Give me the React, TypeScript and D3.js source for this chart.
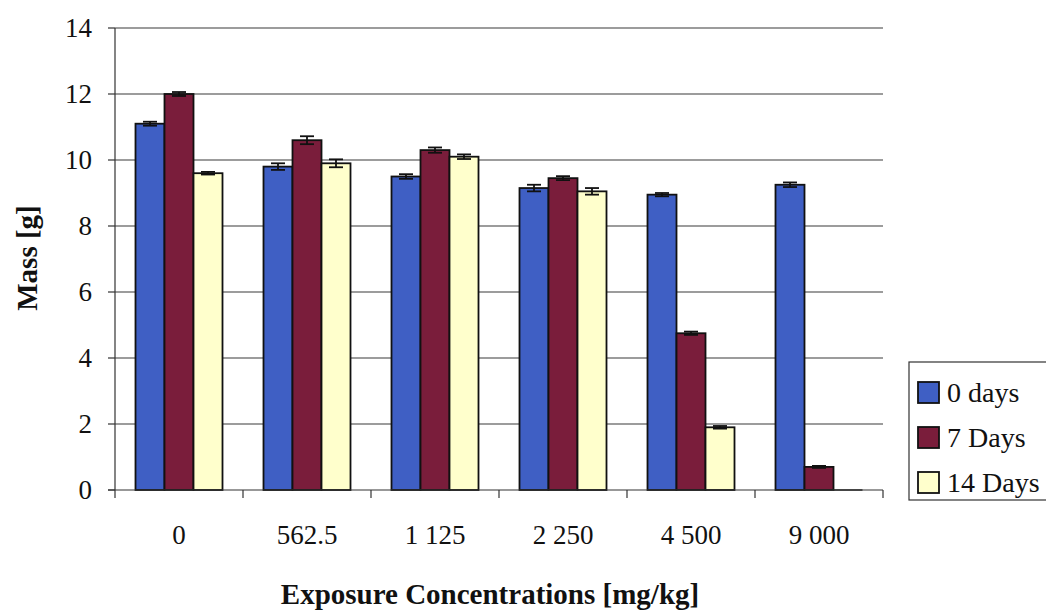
import React from "react";
import * as d3 from "d3";

const categories = ["0", "562.5", "1 125", "2 250", "4 500", "9 000"];
const seriesNames = ["0 days", "7 Days", "14 Days"];
const days0 = [11.1, 9.8, 9.5, 9.15, 8.95, 9.25];
const days7 = [12.0, 10.6, 10.3, 9.45, 4.75, 0.7];
const days14 = [9.6, 9.9, 10.1, 9.05, 1.9, 0];
const err0 = [0.06, 0.1, 0.07, 0.1, 0.05, 0.07];
const err7 = [0.06, 0.12, 0.08, 0.06, 0.05, 0.03];
const err14 = [0.04, 0.12, 0.07, 0.1, 0.04, 0];
const yTicks = [0, 2, 4, 6, 8, 10, 12, 14];

const colors = ["#3f5fc4", "#7a1d3b", "#ffffcc"];
const FONT = "'Liberation Serif', 'Times New Roman', serif";

export default function App() {
  const W = 1046, H = 612;
  const left = 115, right = 883, top = 28, bottom = 490;
  const x = d3.scaleBand<string>().domain(categories).range([left, right]).padding(0);
  const y = d3.scaleLinear().domain([0, 14]).range([bottom, top]);
  const barW = 29;
  const values = [days0, days7, days14];
  const errs = [err0, err7, err14];
  const boundaries = d3.range(categories.length + 1).map((i) => left + i * x.bandwidth());

  return (
    <svg width={W} height={H} style={{ position: "absolute", left: 0, top: 0, background: "#fff" }}>
      <rect x={0} y={0} width={W} height={H} fill="#fff" />
      {yTicks.filter((t) => t > 0).map((t) => (
        <line key={"g" + t} x1={left} x2={right} y1={y(t)} y2={y(t)} stroke="#3a3a3a" strokeWidth={1.1} />
      ))}
      <line x1={left} x2={left} y1={top} y2={bottom} stroke="#333" strokeWidth={1.2} />
      {yTicks.map((t) => (
        <g key={"yt" + t}>
          <line x1={left - 7} x2={left} y1={y(t)} y2={y(t)} stroke="#333" strokeWidth={1.2} />
          <text x={92} y={y(t)} dy="0.35em" textAnchor="end" fontFamily={FONT} fontSize={27} fill="#111">
            {t}
          </text>
        </g>
      ))}
      {categories.map((c, i) => {
        const cx = (x(c) as number) + x.bandwidth() / 2;
        const start = cx - (barW * 3) / 2;
        return (
          <g key={"c" + i}>
            {values.map((vals, s) => {
              const v = vals[i];
              const bx = start + s * barW;
              if (v <= 0) {
                return <line key={"z" + s} x1={bx} x2={bx + barW} y1={bottom} y2={bottom} stroke="#222" strokeWidth={1.5} />;
              }
              return (
                <rect key={"b" + s} x={bx} y={y(v)} width={barW} height={bottom - y(v)} fill={colors[s]} stroke="#111" strokeWidth={1.8} />
              );
            })}
            {values.map((vals, s) => {
              const v = vals[i];
              const e = errs[s][i];
              if (v <= 0 || e <= 0) return null;
              const ex = start + s * barW + barW / 2;
              return (
                <g key={"e" + s} stroke="#111" strokeWidth={1.8}>
                  <line x1={ex} x2={ex} y1={y(v + e)} y2={y(v - e)} />
                  <line x1={ex - 7} x2={ex + 7} y1={y(v + e)} y2={y(v + e)} />
                  <line x1={ex - 7} x2={ex + 7} y1={y(v - e)} y2={y(v - e)} />
                </g>
              );
            })}
          </g>
        );
      })}
      <line x1={left - 7} x2={right} y1={bottom} y2={bottom} stroke="#333" strokeWidth={1.2} />
      {boundaries.map((bx, i) => (
        <line key={"xt" + i} x1={bx} x2={bx} y1={bottom} y2={bottom + 8} stroke="#333" strokeWidth={1.2} />
      ))}
      {categories.map((c) => (
        <text key={"xl" + c} x={(x(c) as number) + x.bandwidth() / 2} y={535} dy="0.35em" textAnchor="middle" fontFamily={FONT} fontSize={27} fill="#111">
          {c}
        </text>
      ))}
      <text x={490} y={594} dy="0.35em" textAnchor="middle" fontFamily={FONT} fontSize={29} fontWeight="bold" fill="#111">
        Exposure Concentrations [mg/kg]
      </text>
      <text transform={`translate(27,258) rotate(-90)`} dy="0.35em" textAnchor="middle" fontFamily={FONT} fontSize={29} fontWeight="bold" fill="#111">
        Mass [g]
      </text>
      <rect x={909} y={362} width={160} height={138} fill="#fff" stroke="#333" strokeWidth={1.2} />
      {seriesNames.map((n, i) => (
        <g key={"lg" + i}>
          <rect x={918} y={392 + i * 45 - 10} width={21} height={21} fill={colors[i]} stroke="#111" strokeWidth={1.8} />
          <text x={947} y={392 + i * 45} dy="0.35em" fontFamily={FONT} fontSize={28} fill="#111">
            {n}
          </text>
        </g>
      ))}
    </svg>
  );
}
